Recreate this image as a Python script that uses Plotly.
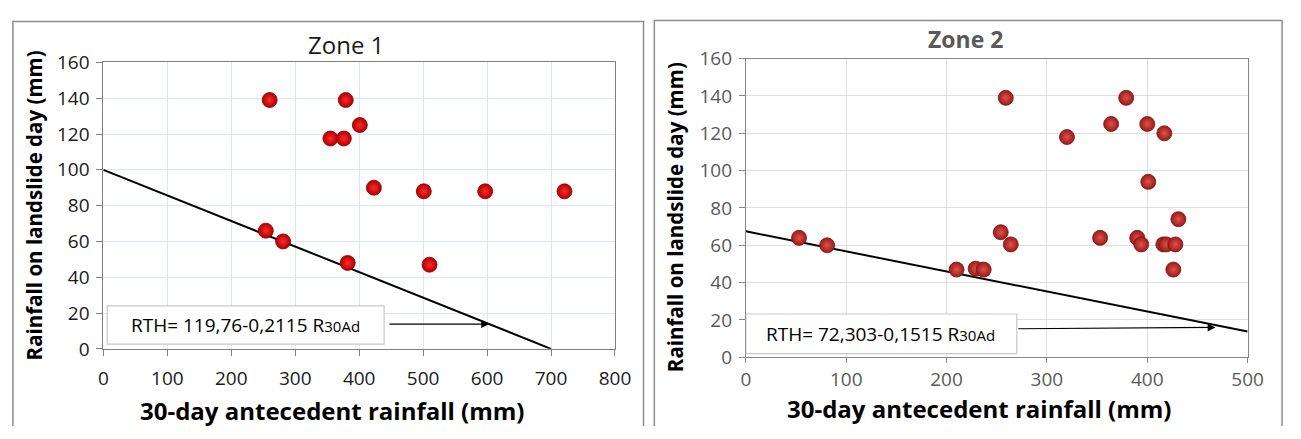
import plotly.graph_objects as go

# ---------------- data ----------------
zone1_x = [260, 379, 401, 355, 376, 423, 501, 597, 721, 254, 281, 382, 510]
zone1_y = [139, 139, 125, 117.5, 117.5, 90, 88, 88, 88, 66, 60, 48, 47]
zone1_line_x = [0, 700]
zone1_line_y = [100, 0]

zone2_x = [259, 379, 364, 400, 417, 320, 401, 431, 53, 81, 254, 264, 353, 390, 394,
           416, 419, 428, 210, 229, 237, 426]
zone2_y = [139, 139, 125, 125, 120, 118, 94, 74, 64, 60, 67, 60.5, 64, 64, 60.5,
           60.5, 60.5, 60.5, 47, 47.5, 47, 47]
zone2_line_x = [0, 500]
zone2_line_y = [67.5, 13.8]

x1_ticks = [0, 100, 200, 300, 400, 500, 600, 700, 800]
x2_ticks = [0, 100, 200, 300, 400, 500]
y_ticks = [0, 20, 40, 60, 80, 100, 120, 140, 160]

titles = ["Zone 1", "Zone 2"]
x_title = "30-day antecedent rainfall (mm)"
y_title = "Rainfall on landslide day (mm)"
eq1 = "RTH= 119,76-0,2115 R<span style='font-size:15px'>30Ad</span>"
eq2 = "RTH= 72,303-0,1515 R<span style='font-size:15px'>30Ad</span>"

FONT = "Open Sans, sans-serif"
W, H = 1301, 439

def px_x(p):
    return p / W

def px_y(p):
    return 1 - p / H

fig = go.Figure()

# Zone 1
fig.add_trace(go.Scatter(x=zone1_line_x, y=zone1_line_y, mode="lines",
                         line=dict(color="black", width=2), xaxis="x", yaxis="y",
                         showlegend=False, hoverinfo="skip"))
fig.add_trace(go.Scatter(x=zone1_x, y=zone1_y, mode="markers", xaxis="x", yaxis="y",
                         marker=dict(size=15, color="#b00000",
                                     gradient=dict(type="radial", color="#ff2a2a"),
                                     line=dict(width=0.8, color="#8a0000")),
                         showlegend=False))
# Zone 2
fig.add_trace(go.Scatter(x=zone2_line_x, y=zone2_line_y, mode="lines",
                         line=dict(color="black", width=2), xaxis="x2", yaxis="y2",
                         showlegend=False, hoverinfo="skip"))
fig.add_trace(go.Scatter(x=zone2_x, y=zone2_y, mode="markers", xaxis="x2", yaxis="y2",
                         marker=dict(size=15, color="#9a1c18",
                                     gradient=dict(type="radial", color="#e0504a"),
                                     line=dict(width=0.8, color="#7a1512")),
                         showlegend=False))

axis_common = dict(showline=True, mirror=True, ticks="outside",
                   zeroline=False, showgrid=True)

fig.update_layout(
    width=W, height=H,
    margin=dict(l=0, r=0, t=0, b=0),
    paper_bgcolor="white", plot_bgcolor="white",
    font=dict(family=FONT),
    xaxis=dict(domain=[px_x(100), px_x(620)], range=[0, 800], tickvals=x1_ticks,
               anchor="y", gridcolor="#dce6f4", linecolor="#7f7f7f", tickcolor="#7f7f7f",
               ticklen=6, tickfont=dict(size=19, color="#1a1a1a"), ticklabelstandoff=6,
               **axis_common),
    yaxis=dict(domain=[px_y(357), px_y(52.5)], range=[0, 160], tickvals=y_ticks,
               anchor="x", gridcolor="#dce6f4", linecolor="#7f7f7f", tickcolor="#7f7f7f",
               ticklen=6, tickfont=dict(size=19, color="#1a1a1a"), ticklabelstandoff=3,
               **axis_common),
    xaxis2=dict(domain=[px_x(753), px_x(1263)], range=[0, 500], tickvals=x2_ticks,
                anchor="y2", gridcolor="#dedede", linecolor="#868686", tickcolor="#868686",
                ticklen=5, tickfont=dict(size=19, color="#595959"), ticklabelstandoff=0,
                **axis_common),
    yaxis2=dict(domain=[px_y(366), px_y(48.5)], range=[0, 160], tickvals=y_ticks,
                anchor="x2", gridcolor="#dedede", linecolor="#868686", tickcolor="#868686",
                ticklen=6, tickfont=dict(size=19, color="#595959"), ticklabelstandoff=3,
                **axis_common),
)

def frame_path(xl, xr, yt):
    return "M {} 0 L {} {} L {} {} L {} 0".format(xl, xl, yt, xr, yt, xr)

shapes = [
    # outer panel frames (open at the bottom, as in the reference)
    dict(type="path", xref="paper", yref="paper",
         path=frame_path(px_x(8), px_x(649), px_y(9)), line=dict(color="#8c8c8c", width=1.5)),
    dict(type="path", xref="paper", yref="paper",
         path=frame_path(px_x(660), px_x(1298), px_y(8)), line=dict(color="#8c8c8c", width=1.5)),
    # equation boxes
    dict(type="rect", xref="x", yref="y", x0=6, x1=439, y0=2.6, y1=24,
         line=dict(color="#c8c8c8", width=1.2), fillcolor="white", layer="above"),
    dict(type="rect", xref="x2", yref="y2", x0=0, x1=270, y0=2.0, y1=23.2,
         line=dict(color="#c8c8c8", width=1.2), fillcolor="white", layer="above"),
]
fig.update_layout(shapes=shapes)

center = dict(xanchor="center", yanchor="middle", showarrow=False)
ann = [
    dict(text=titles[0], xref="paper", yref="paper", x=px_x(347), y=px_y(33),
         font=dict(size=24, color="#1a1a1a"), **center),
    dict(text="<b>" + titles[1] + "</b>", xref="paper", yref="paper", x=px_x(976), y=px_y(28),
         font=dict(size=23, color="#595959"), **center),
    dict(text="<b>" + x_title + "</b>", xref="paper", yref="paper", x=px_x(332), y=px_y(423),
         font=dict(size=24, color="black"), **center),
    dict(text="<b>" + x_title + "</b>", xref="paper", yref="paper", x=px_x(990), y=px_y(420),
         font=dict(size=24, color="black"), **center),
    dict(text="<b>" + y_title + "</b>", xref="paper", yref="paper", x=px_x(29), y=px_y(205),
         textangle=-90, font=dict(size=20.5, color="black"), **center),
    dict(text="<b>" + y_title + "</b>", xref="paper", yref="paper", x=px_x(681), y=px_y(217),
         textangle=-90, font=dict(size=20.5, color="black"), **center),
    # equations
    dict(text=eq1, xref="x", yref="y", x=223, y=13.1,
         font=dict(size=19, color="black"), **center),
    dict(text=eq2, xref="x2", yref="y2", x=134.6, y=12.6,
         font=dict(size=19, color="black"), **center),
    # arrows
    dict(text="", xref="x", yref="y", axref="x", ayref="y", x=603, y=13.8, ax=445, ay=13.8,
         showarrow=True, arrowhead=2, arrowsize=1.3, arrowwidth=1.2, arrowcolor="black"),
    dict(text="", xref="x2", yref="y2", axref="x2", ayref="y2", x=468, y=16, ax=270, ay=15.3,
         showarrow=True, arrowhead=2, arrowsize=1.3, arrowwidth=1.2, arrowcolor="black"),
]
fig.update_layout(annotations=ann)

fig.write_html("out.html", config={"displayModeBar": False},
               post_script="document.body.style.margin='0';document.body.style.overflow='hidden';")
